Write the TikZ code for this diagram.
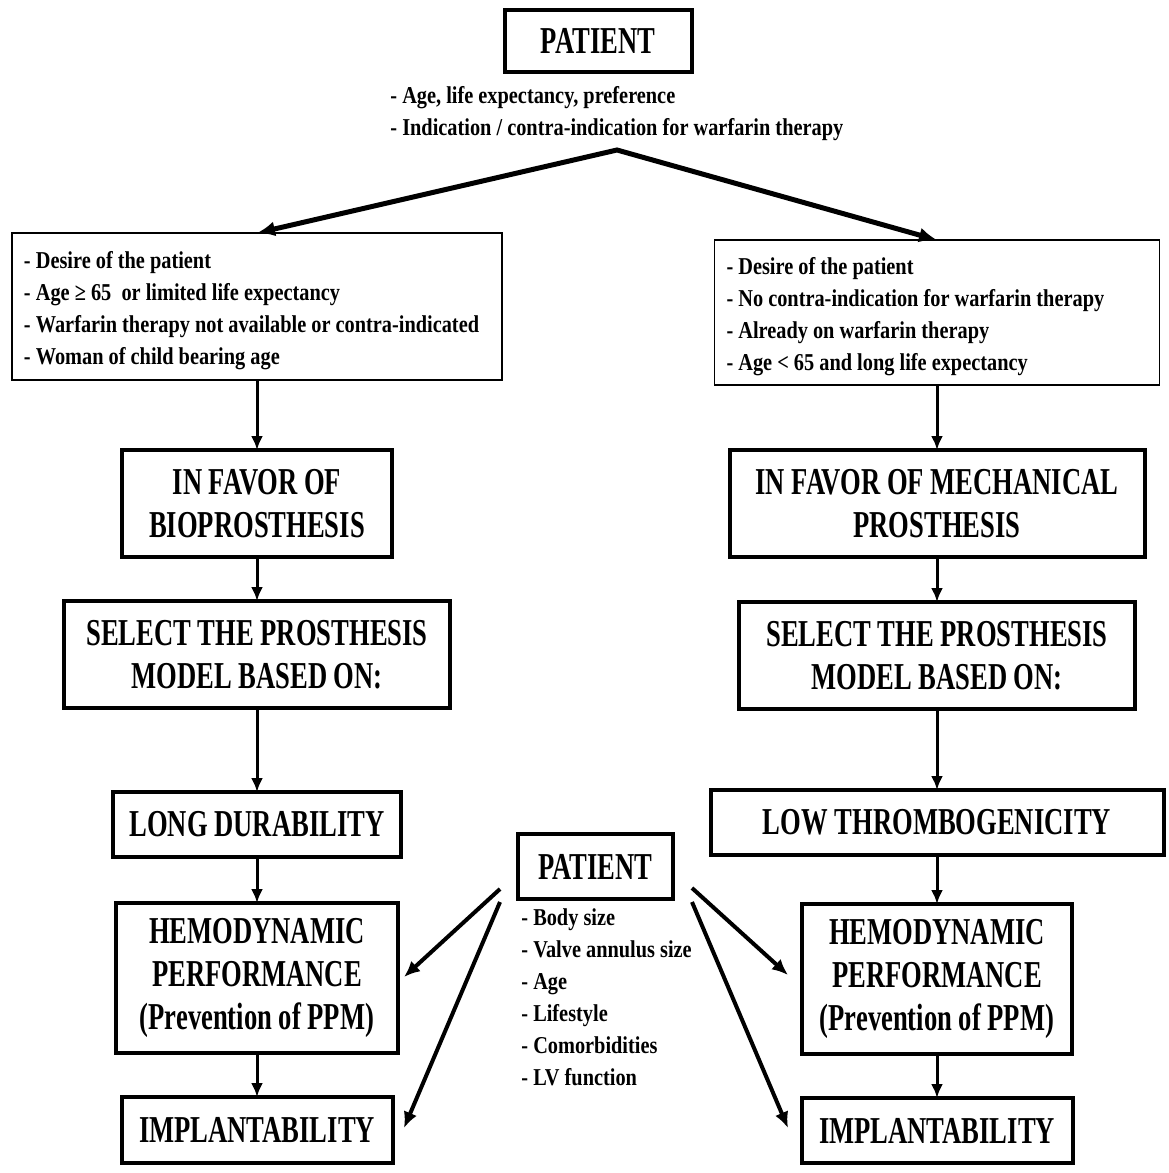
\documentclass[tikz,border=0pt]{standalone}
\usepackage{fontspec}
\setmainfont{Liberation Serif}
\newfontfamily\bigfont{Liberation Serif}[FakeStretch=0.70]
\newfontfamily\smallfont{Liberation Serif}[FakeStretch=0.84]
\usetikzlibrary{positioning,arrows.meta}

\tikzset{
  bigbox/.style={draw, line width=2pt, outer sep=0pt, inner sep=0pt, align=center,
    font=\bigfont\fontsize{19}{21.3}\selectfont\bfseries},
  critbox/.style={draw, line width=0.8pt, outer sep=0pt, inner xsep=6pt, inner ysep=0pt,
    align=flush left, font=\smallfont\fontsize{12.1}{16}\selectfont\bfseries,
    execute at begin node={\rule{0pt}{12.8pt}}},
  itemlist/.style={inner sep=0pt, align=flush left, font=\smallfont\fontsize{12.1}{16}\selectfont\bfseries},
  flow/.style={-{Latex[length=7pt,width=6pt]}, line width=1.5pt},
  side/.style={-{Latex[length=8pt,width=7pt]}, line width=2pt},
}

\begin{document}
\begin{tikzpicture}[x=0.5pt,y=-0.5pt]
\useasboundingbox (0,0) rectangle (1168,1173);

\node[bigbox, minimum width=93.5pt, minimum height=31pt] (pat) at (598,41) {PATIENT};
\node[itemlist, anchor=north west] (patinfo) at (390,86)
  {- Age, life expectancy, preference\\- Indication / contra-indication for warfarin therapy};
\coordinate (apex) at (617,150);

\node[critbox, text width=233pt, minimum height=73.5pt] (bioc) at (257,306.5)
  {- Desire of the patient\\- Age ≥ 65\ \ or limited life expectancy\\
   - Warfarin therapy not available or contra-indicated\\- Woman of child bearing age};
\node[critbox, text width=210.5pt, minimum height=72.5pt] (mechc) at (937,312.5)
  {- Desire of the patient\\- No contra-indication for warfarin therapy\\
   - Already on warfarin therapy\\- Age < 65 and long life expectancy};

\node[bigbox, minimum width=135pt, minimum height=53.5pt, below=35pt of bioc] (bio) {IN FAVOR OF\\BIOPROSTHESIS};
\node[bigbox, minimum width=193pt, minimum height=53.5pt, below=22pt of bio] (selb) {SELECT THE PROSTHESIS\\MODEL BASED ON:};
\node[bigbox, minimum width=144pt, minimum height=32.5pt, below=42pt of selb] (dur) {LONG DURABILITY};
\node[bigbox, minimum width=141pt, minimum height=75pt, below=23pt of dur] (hemb) {HEMODYNAMIC\\PERFORMANCE\\(Prevention of PPM)};
\node[bigbox, minimum width=135.5pt, minimum height=33pt, below=22pt of hemb] (impb) {IMPLANTABILITY};

\node[bigbox, minimum width=207.5pt, minimum height=53.5pt, below=32.5pt of mechc] (mech) {IN FAVOR OF MECHANICAL\\PROSTHESIS};
\node[bigbox, minimum width=198pt, minimum height=53.5pt, below=22.5pt of mech] (selm) {SELECT THE PROSTHESIS\\MODEL BASED ON:};
\node[bigbox, minimum width=226.5pt, minimum height=32.5pt, below=40.5pt of selm] (thr) {LOW THROMBOGENICITY};
\node[bigbox, minimum width=135pt, minimum height=75pt, below=24.5pt of thr] (hemm) {HEMODYNAMIC\\PERFORMANCE\\(Prevention of PPM)};
\node[bigbox, minimum width=135.5pt, minimum height=32.5pt, below=22pt of hemm] (impm) {IMPLANTABILITY};

\node[bigbox, minimum width=77.5pt, minimum height=32.5pt] (pat2) at (595.5,866.5) {PATIENT};
\node[itemlist, anchor=north west] (pat2info) at (521,908)
  {- Body size\\- Valve annulus size\\- Age\\- Lifestyle\\- Comorbidities\\- LV function};

\coordinate (l1) at (500,889);
\coordinate (l2) at (500,902);
\coordinate (r1) at (692,888);
\coordinate (r2) at (692,902);
\coordinate (hl) at (404,977);
\coordinate (il) at (404,1128);
\coordinate (hr) at (788,975);
\coordinate (ir) at (788,1128);

\draw[{Latex[length=9pt,width=7.5pt]}-{Latex[length=9pt,width=7.5pt]}, line width=2.5pt]
  (bioc.north) -- (apex) -- (mechc.north);

\draw[flow] (bioc) -- (bio);
\draw[flow] (bio) -- (selb);
\draw[flow] (selb) -- (dur);
\draw[flow] (dur) -- (hemb);
\draw[flow] (hemb) -- (impb);
\draw[flow] (mechc) -- (mech);
\draw[flow] (mech) -- (selm);
\draw[flow] (selm) -- (thr);
\draw[flow] (thr) -- (hemm);
\draw[flow] (hemm) -- (impm);

\draw[side] (l1) -- (hl);
\draw[side] (l2) -- (il);
\draw[side] (r1) -- (hr);
\draw[side] (r2) -- (ir);
\end{tikzpicture}
\end{document}
